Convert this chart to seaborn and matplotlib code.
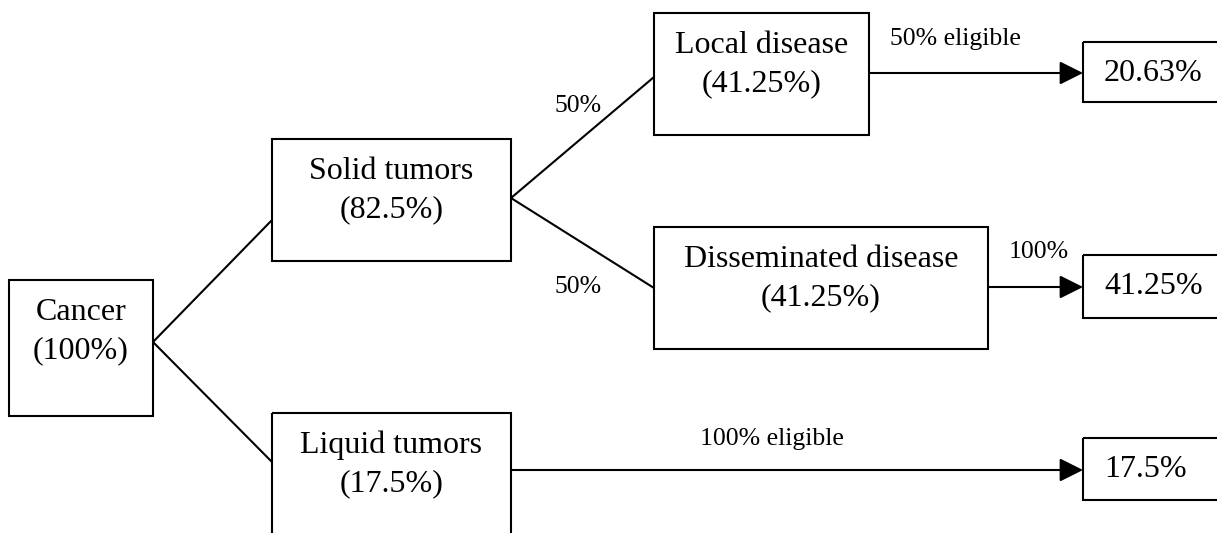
import matplotlib
matplotlib.use("Agg")
import matplotlib.pyplot as plt
from matplotlib.patches import Rectangle
import seaborn as sns
import pandas as pd

# ---- data ----
node_names = ["Cancer", "Solid tumors", "Liquid tumors", "Local disease", "Disseminated disease"]
node_pct = [100, 82.5, 17.5, 41.25, 41.25]
outcome_pct = [20.63, 41.25, 17.5]
branch_labels = ["50%", "50%"]
flow_labels = ["50% eligible", "100%", "100% eligible"]

# ---- layout (pixel coordinates, y downwards) ----
node_boxes = [(9, 280, 153, 416), (272, 139, 511, 261), (272, 413, 511, 560),
              (654, 13, 869, 135), (654, 227, 988, 349)]
outcome_boxes = [(1083, 42, 1240, 102), (1083, 255, 1240, 318), (1083, 438, 1240, 500)]
connectors = [((153, 342), (272, 220)), ((153, 342), (272, 462)),
              ((511, 198), (654, 77)), ((511, 198), (654, 288))]
arrows = [((869, 73), (1083, 73)), ((988, 287), (1083, 287)), ((511, 470), (1083, 470))]
branch_pos = [(578, 112), (578, 293)]
flow_pos = [(955, 45, "center"), (1039, 258, "center"), (700, 445, "left")]

sns.set_theme(style="white")
plt.rcParams["font.family"] = ["Liberation Serif", "DejaVu Serif"]
plt.rcParams["text.color"] = "black"

fig = plt.figure(figsize=(12.17, 5.33), dpi=100)
ax = fig.add_axes([0, 0, 1, 1])

LW = 1.5
BIG = 23
SMALL = 18.5

# connectors via seaborn
rows = []
for i, (p, q) in enumerate(connectors):
    rows.append({"x": p[0], "y": p[1], "seg": i})
    rows.append({"x": q[0], "y": q[1], "seg": i})
df = pd.DataFrame(rows)
sns.lineplot(data=df, x="x", y="y", units="seg", estimator=None, sort=False,
             color="black", lw=LW, ax=ax, legend=False)
ax.set_xlim(0, 1217)
ax.set_ylim(533, 0)
ax.axis("off")

# node boxes
for (x0, y0, x1, y1), name, pct in zip(node_boxes, node_names, node_pct):
    ax.add_patch(Rectangle((x0, y0), x1 - x0, y1 - y0, fill=False, ec="black", lw=LW))
    cx = (x0 + x1) / 2
    ax.text(cx, y0 + 40, name, ha="center", va="baseline", fontsize=BIG, color="black")
    ax.text(cx, y0 + 78, f"({pct:g}%)", ha="center", va="baseline", fontsize=BIG, color="black")

# outcome boxes
for (x0, y0, x1, y1), pct in zip(outcome_boxes, outcome_pct):
    ax.add_patch(Rectangle((x0, y0), x1 - x0, y1 - y0, fill=False, ec="black", lw=LW))
    ax.text(x0 + 21, y0 + 39, f"{pct:g}%", ha="left", va="baseline", fontsize=BIG, color="black")

# arrows
for p, q in arrows:
    ax.annotate("", xy=q, xytext=p,
                arrowprops=dict(arrowstyle="-|>,head_length=1.0,head_width=0.5",
                                mutation_scale=14.4, color="black", lw=LW,
                                shrinkA=0, shrinkB=0))

for (x, y), lab in zip(branch_pos, branch_labels):
    ax.text(x, y, lab, ha="center", va="baseline", fontsize=SMALL, color="black")
for (x, y, ha), lab in zip(flow_pos, flow_labels):
    ax.text(x, y, lab, ha=ha, va="baseline", fontsize=SMALL, color="black")

fig.savefig("out.png", dpi=100, facecolor="white")
